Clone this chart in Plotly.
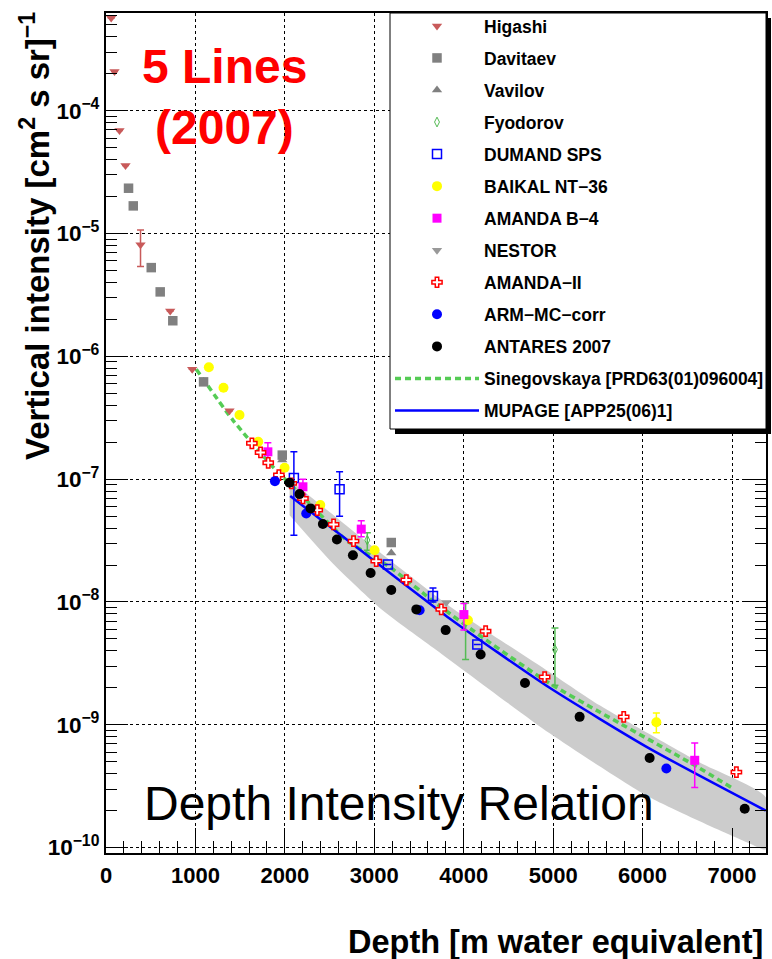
import numpy as np
import plotly.graph_objects as go

# ---------------- data ----------------
higashi_x = [58, 95, 151, 218, 386, 718, 964, 1381]
higashi_y = [5.7e-4, 2.09e-4, 6.9e-5, 3.58e-5, 8.1e-6, 2.34e-6, 7.85e-7, 3.6e-7]
higashi_hi = [None, None, None, None, 1.07e-5, None, None, None]
higashi_lo = [None, None, None, None, 5.38e-6, None, None, None]

davitaev_x = [252, 305, 506, 606, 747, 1091, 1971, 3190]
davitaev_y = [2.34e-5, 1.68e-5, 5.28e-6, 3.35e-6, 1.95e-6, 6.2e-7, 1.57e-7, 3.05e-8]

vavilov_x = [1971, 3190]
vavilov_y = [1.43e-7, 2.5e-8]

fyodorov_x = [2922, 4021, 5020]
fyodorov_y = [3.19e-8, 7.1e-9, 4.1e-9]
fyodorov_hi = [3.66e-8, 9.8e-9, 6.15e-9]
fyodorov_lo = [2.64e-8, 3.4e-9, 2.1e-9]

dumand_x = [2101, 2612, 3152, 3656, 4152]
dumand_y = [1.02e-7, 8.26e-8, 2.02e-8, 1.12e-8, 4.5e-9]
dumand_hi = [1.67e-7, 1.15e-7, None, 1.30e-8, None]
dumand_lo = [3.5e-8, 5.0e-8, None, 1.0e-8, None]

baikal_x = [1150, 1314, 1493, 1702, 1997, 2396, 3003, 4047, 6154]
baikal_y = [8.15e-7, 5.56e-7, 3.33e-7, 2.02e-7, 1.24e-7, 6.15e-8, 2.64e-8, 7.1e-9, 1.05e-9]
baikal_hi = [None, None, None, None, None, None, None, None, 1.25e-9]
baikal_lo = [None, None, None, None, None, None, None, None, 8.6e-10]

amandab4_x = [1810, 2202, 2854, 4002, 6583]
amandab4_y = [1.67e-7, 8.67e-8, 3.92e-8, 7.9e-9, 5.14e-10]
amandab4_hi = [1.98e-7, 1.0e-7, 4.58e-8, 9.7e-9, 7.1e-10]
amandab4_lo = [1.4e-7, 7.5e-8, 3.4e-8, 5.9e-9, 3.08e-10]

nestor_x = [3805]
nestor_y = [9.9e-9]

amanda2_x = [1631, 1728, 1814, 1933, 2072, 2202, 2362, 2545, 2768, 3022,
             3358, 3749, 4245, 4905, 5789, 7049]
amanda2_y = [1.96e-7, 1.65e-7, 1.36e-7, 1.08e-7, 9.25e-8, 6.97e-8, 5.6e-8, 4.28e-8,
             3.13e-8, 2.15e-8, 1.51e-8, 8.7e-9, 5.78e-9, 2.45e-9, 1.16e-9, 4.12e-10]

arm_x = [1889, 2239, 3507, 6266]
arm_y = [9.64e-8, 5.26e-8, 8.57e-9, 4.4e-10]

antares_x = [2053, 2164, 2287, 2425, 2582, 2761, 2959, 3190, 3470, 3798,
             4189, 4685, 5296, 6079, 7142]
antares_y = [9.35e-8, 7.56e-8, 5.78e-8, 4.31e-8, 3.23e-8, 2.4e-8, 1.72e-8, 1.25e-8,
             8.7e-9, 5.9e-9, 3.73e-9, 2.19e-9, 1.16e-9, 5.37e-10, 2.07e-10]

# model curves
sinegovskaya_x = [1009, 1418, 1866, 2220, 2687, 3171, 3694, 4253, 4961, 5520, 6602, 6993]
sinegovskaya_y = [7.85e-7, 3.03e-7, 1.26e-7, 6.97e-8, 3.19e-8, 1.93e-8, 9.7e-9,
                  4.89e-9, 2.17e-9, 1.27e-9, 4.59e-10, 3.08e-10]

mupage_x = [2060, 2724, 3842, 4961, 6079, 7377]
mupage_y = [7.28e-8, 3.09e-8, 7.35e-9, 2.0e-9, 6.4e-10, 2.0e-10]

# MUPAGE systematic band
band_upper_x = [2053, 2500, 3059, 3842, 4961, 5520, 6639, 7377]
band_upper_y = [9.84e-8, 5.4e-8, 2.55e-8, 9.25e-9, 2.68e-9, 1.44e-9, 4.94e-10, 2.57e-10]
band_lower_x = [2053, 2534, 3093, 3697, 4961, 6079, 7198, 7377]
band_lower_y = [5.09e-8, 2.07e-8, 8.57e-9, 4.05e-9, 8.53e-10, 2.57e-10, 1.08e-10, 9.67e-11]

# ---------------- layout geometry ----------------
W, H = 772, 959
ML, MR, MT, MB = 106, 6, 13, 106
PW, PH = W - ML - MR, H - MT - MB


def px_x(p):
    return (p - ML) / PW


def px_y(p):
    return (H - MB - p) / PH


FONT = "Liberation Sans"


def errs(y, hi, lo):
    plus = [np.nan if h is None else h - v for v, h in zip(y, hi)]
    minus = [np.nan if l is None else v - l for v, l in zip(y, lo)]
    return dict(type="data", symmetric=False, array=plus, arrayminus=minus,
                thickness=1.5, width=3.5)


fig = go.Figure()

# systematic band
fig.add_trace(go.Scatter(
    x=band_upper_x + band_lower_x[::-1], y=band_upper_y + band_lower_y[::-1],
    fill="toself", fillcolor="#cccccc", line=dict(width=0, shape="spline", smoothing=0.6),
    mode="lines", showlegend=False, hoverinfo="skip"))

fig.add_trace(go.Scatter(
    x=sinegovskaya_x, y=sinegovskaya_y, mode="lines",
    name="Sinegovskaya [PRD63(01)096004]",
    line=dict(color="#55cc55", width=3.5, dash="6px,4px", shape="spline", smoothing=0.6),
    legendrank=12, legendgroup="g12"))

fig.add_trace(go.Scatter(
    x=mupage_x, y=mupage_y, mode="lines", name="MUPAGE [APP25(06)1]",
    line=dict(color="#0000ff", width=2.5, shape="spline", smoothing=0.6),
    legendrank=13, legendgroup="g13"))


def pts(name, x, y, rank, symbol, color, size, line=None, err=None):
    marker = dict(symbol=symbol, color=color, size=size)
    if line is not None:
        marker["line"] = line
    tr = go.Scatter(x=x, y=y, mode="markers", name=name, marker=marker,
                    legendrank=rank, legendgroup="g%d" % rank, cliponaxis=False)
    if err is not None:
        tr.error_y = err
        tr.error_y.color = color
    fig.add_trace(tr)


pts("Higashi", higashi_x, higashi_y, 1, "triangle-down", "#c85a5a", 9,
    err=errs(higashi_y, higashi_hi, higashi_lo))
pts("Davitaev", davitaev_x, davitaev_y, 2, "square", "#808080", 9.5)
pts("Vavilov", vavilov_x, vavilov_y, 3, "triangle-up", "#808080", 9)
pts("Fyodorov", fyodorov_x, fyodorov_y, 4, "diamond-tall-open", "#55bb55", 7,
    line=dict(width=1), err=errs(fyodorov_y, fyodorov_hi, fyodorov_lo))
pts("DUMAND SPS", dumand_x, dumand_y, 5, "square-open", "#0000ff", 9,
    line=dict(width=1.5), err=errs(dumand_y, dumand_hi, dumand_lo))
pts("BAIKAL NT\u221236", baikal_x, baikal_y, 6, "circle", "#ffff00", 10,
    err=errs(baikal_y, baikal_hi, baikal_lo))
pts("AMANDA B\u22124", amandab4_x, amandab4_y, 7, "square", "#ff00ff", 9,
    err=errs(amandab4_y, amandab4_hi, amandab4_lo))
pts("NESTOR", nestor_x, nestor_y, 8, "triangle-down", "#999999", 9)
pts("AMANDA\u2212II", amanda2_x, amanda2_y, 9, "cross", "#ffffff", 8.5,
    line=dict(color="#ff0000", width=1.5))
pts("ARM\u2212MC\u2212corr", arm_x, arm_y, 10, "circle", "#0000ff", 10)
pts("ANTARES 2007", antares_x, antares_y, 11, "circle", "#000000", 10)

axis_common = dict(
    showline=True, linecolor="black", linewidth=2,
    ticks="inside", tickcolor="black", tickwidth=1,
    showgrid=True, gridcolor="black", gridwidth=1, griddash="dot",
    zeroline=False,
)

fig.update_xaxes(
    **axis_common, range=[0, 7380], dtick=1000, tick0=0, ticklen=25,
    mirror=True, ticklabelstandoff=2,
    tickfont=dict(family=FONT, size=22, color="black", weight="bold"),
    minor=dict(ticks="inside", ticklen=12, dtick=200, tickcolor="black", showgrid=False),
)
fig.update_yaxes(
    **axis_common,
    tickfont=dict(family=FONT, size=18, color="black", weight="bold"),
    type="log", range=[-10.044, -3.204], dtick=1, exponentformat="power",
    ticklen=22, mirror="ticks", ticklabelstandoff=1,
    minor=dict(ticks="inside", ticklen=11, dtick="D1", tickcolor="black", showgrid=False),
)

# legend frame with drop shadow
lx0, ly0, lx1, ly1 = 390, 13, 766, 429
shapes = [
    dict(type="rect", xref="paper", yref="paper", layer="above",
         x0=px_x(lx0 + 5), x1=px_x(lx1 + 5), y0=px_y(ly1 + 5), y1=px_y(ly0 + 5),
         fillcolor="black", line=dict(width=0)),
    dict(type="rect", xref="paper", yref="paper", layer="above",
         x0=px_x(lx0), x1=px_x(lx1), y0=px_y(ly1), y1=px_y(ly0),
         fillcolor="white", line=dict(color="black", width=1)),
]

annotations = [
    dict(text="<b>5 Lines</b>", x=px_x(224), y=px_y(66), xref="paper", yref="paper",
         showarrow=False, xanchor="center", yanchor="middle",
         font=dict(family=FONT, size=48, color="#ff0000")),
    dict(text="<b>(2007)</b>", x=px_x(224), y=px_y(128), xref="paper", yref="paper",
         showarrow=False, xanchor="center", yanchor="middle",
         font=dict(family=FONT, size=48, color="#ff0000")),
    dict(text="Depth Intensity Relation", x=px_x(399), y=px_y(803), xref="paper",
         yref="paper", showarrow=False, xanchor="center", yanchor="middle",
         font=dict(family=FONT, size=48, color="black")),
    dict(text="<b>Depth [m water equivalent]</b>", x=px_x(765), y=px_y(942),
         xref="paper", yref="paper", showarrow=False, xanchor="right", yanchor="middle",
         font=dict(family=FONT, size=32.5, color="black")),
    dict(text="<b>Vertical intensity [cm<sup>2</sup> s sr]<sup>\u22121</sup></b>",
         x=px_x(35), y=px_y(236), xref="paper", yref="paper", showarrow=False,
         textangle=-90, xanchor="center", yanchor="middle",
         font=dict(family=FONT, size=33, color="black")),
]

fig.update_layout(
    width=W, height=H,
    margin=dict(l=ML, r=MR, t=MT, b=MB, autoexpand=False),
    paper_bgcolor="white", plot_bgcolor="white",
    shapes=shapes, annotations=annotations,
    showlegend=True,
    legend=dict(
        x=px_x(lx0), y=px_y(ly0 - 5), xanchor="left", yanchor="top",
        bgcolor="rgba(0,0,0,0)", borderwidth=0,
        font=dict(family=FONT, size=17.5, color="black", weight="bold"),
        itemwidth=84, traceorder="grouped", tracegroupgap=6.3,
        itemclick=False, itemdoubleclick=False,
    ),
)

fig.write_html("out.html")
